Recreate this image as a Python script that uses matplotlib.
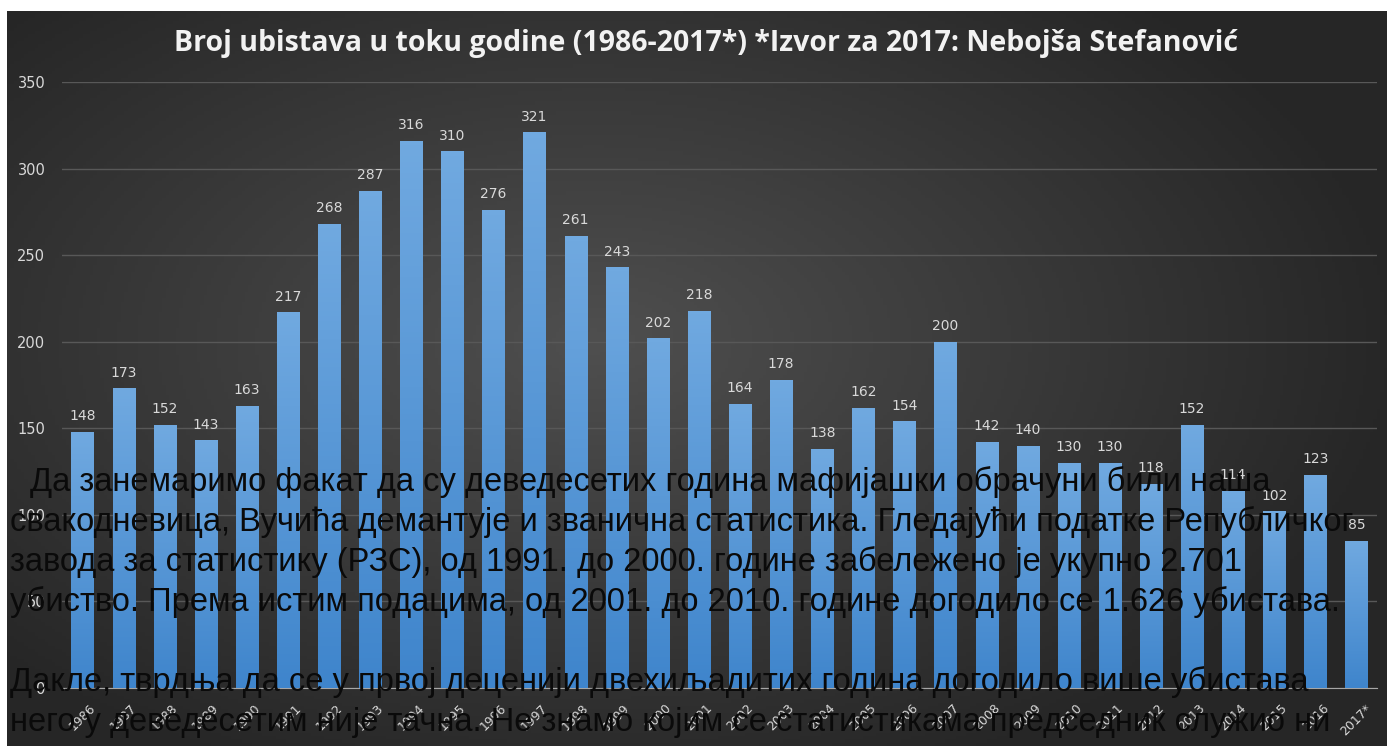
import numpy as np
import matplotlib
matplotlib.use("Agg")
from matplotlib import pyplot as plt

# Data
years = ['1986', '1987', '1988', '1989', '1990', '1991', '1992', '1993', '1994', '1995',
         '1996', '1997', '1998', '1999', '2000', '2001', '2002', '2003', '2004', '2005',
         '2006', '2007', '2008', '2009', '2010', '2011', '2012', '2013', '2014', '2015',
         '2016', '2017*']
murders = [148, 173, 152, 143, 163, 217, 268, 287, 316, 310,
           276, 321, 261, 243, 202, 218, 164, 178, 138, 162,
           154, 200, 142, 140, 130, 130, 118, 152, 114, 102,
           123, 85]
y_ticks = [0, 50, 100, 150, 200, 250, 300, 350]

title = "Broj ubistava u toku godine (1986-2017*) *Izvor za 2017: Nebojša Stefanović"
overlay_lines = [
    "Да занемаримо факат да су деведесетих година мафијашки обрачуни били наша",
    "свакодневица, Вучића демантује и званична статистика. Гледајући податке Републичког",
    "завода за статистику (РЗС), од 1991. до 2000. године забележено је укупно 2.701",
    "убиство. Према истим подацима, од 2001. до 2010. године догодило се 1.626 убистава.",
    "",
    "Дакле, тврдња да се у првој деценији двехиљадитих година догодило више убистава",
    "него у деведесетим није тачна. Не знамо којим се статистикама председник служио ни",
]

W, H = 1387, 746
fig = plt.figure(figsize=(W / 100, H / 100), dpi=100, facecolor='white')

# Dark radial background of the screenshot
bg = fig.add_axes([7 / W, 0, 1 - 7 / W, (H - 11) / H])
bg.set_axis_off()
gx, gy = np.meshgrid(np.linspace(-1, 1, 400), np.linspace(-1, 1, 220))
r = np.sqrt(((gx + 0.15) / 1.1) ** 2 + ((gy + 0.1) / 1.2) ** 2)
shade = np.clip(0.31 - 0.15 * r, 0.15, 0.31)
bg.imshow(np.dstack([shade, shade, shade]), aspect='auto', extent=[0, 1, 0, 1])
bg.set_xlim(0, 1)
bg.set_ylim(0, 1)

ax = fig.add_axes([62 / W, 58 / H, (1377 - 62) / W, (688 - 82) / H])
ax.patch.set_alpha(0)
x = np.arange(len(years))
bars = ax.bar(x, murders, width=0.54, color='#5b9bd5', zorder=2)

# vertical gradient inside each bar
grad = np.linspace(0, 1, 100).reshape(-1, 1)
cmap = matplotlib.colors.LinearSegmentedColormap.from_list('b', ['#3f85cc', '#70a9e0'])
for b in bars:
    im = ax.imshow(grad, cmap=cmap, aspect='auto', origin='lower', zorder=3,
                   extent=[b.get_x(), b.get_x() + b.get_width(), 0, b.get_height()])
    im.set_clip_path(b)

for xi, v in zip(x, murders):
    ax.text(xi, v + 5, str(v), ha='center', va='bottom', color='#d9d9d9',
            fontsize=10, zorder=4)

ax.set_xlim(-0.5, len(years) - 0.5)
ax.set_ylim(0, 350)
ax.set_yticks(y_ticks)
ax.set_yticklabels([str(t) for t in y_ticks], color='#d9d9d9', fontsize=10.5)
ax.set_xticks(x)
ax.set_xticklabels(years, rotation=45, color='#d9d9d9', fontsize=9,
                   ha='center', va='top')
ax.tick_params(axis='both', length=0, pad=10)
ax.tick_params(axis='y', pad=12)
ax.grid(axis='y', color='#585858', linewidth=1, zorder=0)
ax.set_axisbelow(True)
for s in ['top', 'right', 'left']:
    ax.spines[s].set_visible(False)
ax.spines['bottom'].set_color('#a6a6a6')

fig.text(706 / W, 1 - 43 / H, title, ha='center', va='center', color='#f2f2f2',
         fontsize=20.5, fontweight='bold', family='Open Sans')

# overlay paragraph in black
for i, line in enumerate(overlay_lines):
    if not line:
        continue
    left = 30 if i == 0 else 10
    fig.text(left / W, 1 - (482 + 40 * i) / H, line, ha='left', va='center',
             color='#0a0a0a', fontsize=23.5, family='Liberation Sans')

fig.savefig('out.png', dpi=100, facecolor='white')
